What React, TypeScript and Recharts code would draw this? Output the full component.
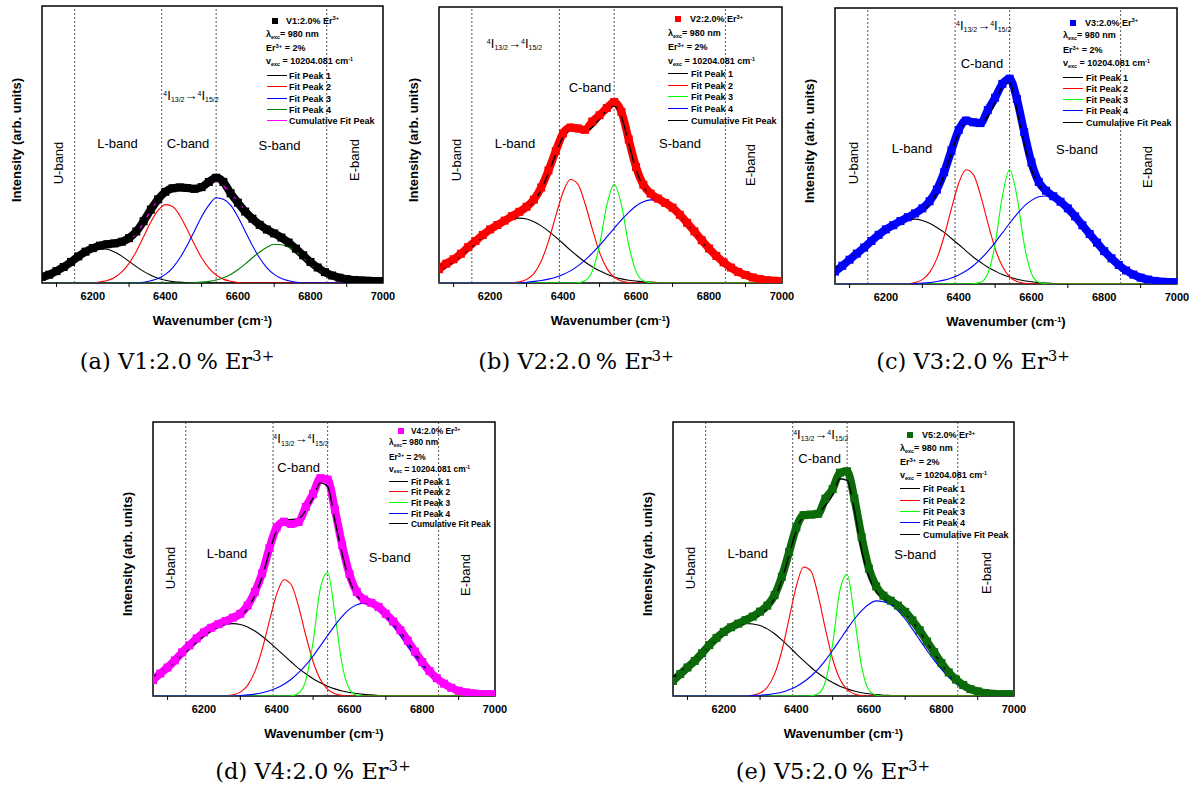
import React from 'react';
import { ComposedChart, Line, XAxis, YAxis, ReferenceLine, ReferenceArea } from 'recharts';

// ---------- shared axis data ----------
const WAVENUMBER = [6060,6080,6100,6120,6140,6160,6180,6200,6220,6240,6260,6280,6300,6320,6340,6360,6380,6400,6420,6440,6460,6480,6500,6520,6540,6560,6580,6600,6620,6640,6660,6680,6700,6720,6740,6760,6780,6800,6820,6840,6860,6880,6900,6920,6940,6960,6980,7000];
const X_TICKS = [6100,6200,6300,6400,6500,6600,6700,6800,6900,7000];
const BAND_EDGES = [6150, 6390, 6540, 6845];
const BAND_NAMES = ['U-band', 'L-band', 'C-band', 'S-band', 'E-band'];
const LEGEND_LINES = ['Fit Peak 1', 'Fit Peak 2', 'Fit Peak 3', 'Fit Peak 4', 'Cumulative Fit Peak'];

// ---------- V1 ----------
const V1_MEASURED = [2.2,3.0,4.3,5.8,7.6,9.6,11.3,12.6,13.5,14.0,14.3,14.9,16.2,18.6,22.3,26.5,30.2,32.9,34.2,34.5,34.3,34.0,34.6,36.5,38.0,36.5,32.4,29.0,25.8,23.2,21.0,19.3,17.9,16.4,14.6,12.4,10.0,7.6,5.6,3.9,2.7,1.9,1.4,1.1,0.9,0.8,0.7,0.7];
const V1_CUMULATIVE = [1.9,2.8,4.0,5.6,7.4,9.4,11.1,12.4,13.4,13.7,13.8,14.3,15.5,17.9,21.8,26.2,30.1,33.0,34.2,34.2,33.6,33.4,34.4,36.0,37.0,35.2,32.4,29.5,26.1,23.2,20.8,19.0,17.6,16.1,14.3,12.1,9.7,7.4,5.4,3.7,2.5,1.7,1.2,0.9,0.7,0.6,0.6,0.6];
const V1_PEAK1 = [1.3,2.2,3.4,5.0,6.8,8.8,10.5,11.8,12.4,12.2,11.2,9.7,7.8,5.9,4.2,2.8,1.7,1.0,0.5,0.3,0.1,
  0,0,0,0,0,0,0,0,0,0, 0,0,0,0,0,0,0,0,0,0, 0,0,0,0,0,0,0];
const V1_PEAK2 = [0,0,0,0,0,0,0,0,
  0.4,0.9,2.0,4.0,7.1,11.4,16.7,22.0,26.2,28.3,27.6,24.3,19.4,14.0,9.1,5.4,2.9,1.4,0.6,0.2,
  0,0,0,0,0,0,0,0,0,0, 0,0,0,0,0,0,0,0,0,0];
const V1_PEAK3 = [0,0,0,0,0,0,0,0,0,0, 0,0,0,0,
  0.3,0.8,1.6,3.1,5.5,9.0,13.5,18.7,23.9,28.1,30.8,30.2,28.1,23.9,18.7,13.5,9.0,5.5,3.1,1.6,0.8,0.3,
  0,0,0,0,0,0,0,0,0,0, 0,0];
const V1_PEAK4 = [0,0,0,0,0,0,0,0,0,0, 0,0,0,0,0,0,0,0,0,0, 0,
  0.1,0.3,0.6,1.1,1.9,3.1,4.8,6.8,9.1,11.2,12.9,14.0,13.8,12.9,11.2,9.1,6.8,4.8,3.1,1.9,1.1,0.6,0.3,0.1,
  0,0,0];

// ---------- V2 ----------
const V2_MEASURED = [5.0,7.0,8.6,10.6,13.0,15.2,17.4,19.4,21.0,22.6,24.2,25.8,27.6,30.2,34.6,40.8,47.8,54.2,56.3,56.0,55.5,58.5,60.8,63.4,65.6,62.0,52.0,42.0,35.6,32.4,30.6,29.0,27.3,24.7,21.8,18.7,15.5,12.5,9.8,7.5,5.6,4.0,2.9,2.0,1.4,1.0,0.8,0.6];
const V2_CUMULATIVE = [6.0,7.2,9.0,10.8,13.3,15.4,17.5,19.3,20.8,22.3,23.9,25.3,27.1,29.5,33.7,39.8,46.7,53.0,55.2,55.4,55.2,56.4,59.3,62.7,64.1,60.2,50.6,41.0,34.9,31.9,30.4,28.8,27.0,24.4,21.5,18.4,15.2,12.2,9.6,7.3,5.4,3.9,2.8,1.9,1.3,1.0,0.8,0.6];
const V2_PEAK1 = [4.4,5.9,7.6,9.7,11.9,14.3,16.6,18.8,20.7,22.2,23.2,23.5,23.2,22.2,20.7,18.8,16.6,14.3,11.9,9.7,7.6,5.9,4.4,3.2,2.2,1.5,1.0,0.7,0.4,0.3,0.2,0.1,
  0,0,0,0,0,0,0,0,0,0, 0,0,0,0,0,0];
const V2_PEAK2 = [0,0,0,0,0,0,0,0,0,0,
  0.1,0.4,1.3,3.4,7.9,15.1,24.3,32.9,37.5,35.9,28.9,19.6,11.1,5.3,2.1,0.7,0.2,
  0,0,0,0,0,0,0,0,0,0, 0,0,0,0,0,0,0,0,0,0, 0];
const V2_PEAK3 = [0,0,0,0,0,0,0,0,0,0, 0,0,0,0,0,0,0,0,0,
  0.1,0.8,4.2,13.8,28.2,35.8,28.2,13.8,4.2,0.8,0.1,
  0,0,0,0,0,0,0,0,0,0, 0,0,0,0,0,0,0,0];
const V2_PEAK4 = [0,0,0,0,0,0,0,0,0,0, 0,0,
  0.3,0.6,0.9,1.4,2.1,3.1,4.4,6.1,8.3,10.8,13.6,16.7,19.8,22.9,25.6,27.9,29.4,30.1,29.8,28.7,26.9,24.3,21.4,18.3,15.1,12.1,9.5,7.1,5.2,3.7,2.6,1.7,1.1,0.7,0.4,0.3];

// ---------- V3 ----------
const V3_MEASURED = [4.5,6.6,8.8,11.0,13.2,15.6,17.8,19.8,21.3,22.8,24.2,25.6,27.4,30.0,34.2,40.5,48.4,55.8,59.2,58.6,58.3,63.0,67.5,72.5,74.4,67.0,55.0,44.0,37.0,33.8,31.8,29.8,27.4,24.5,21.3,18.1,15.0,11.9,9.3,6.9,4.9,3.4,2.3,1.6,1.1,0.8,0.7,0.6];
const V3_CUMULATIVE = [5.7,7.3,9.3,11.5,13.5,15.7,17.8,19.6,21.0,22.4,23.7,25.0,26.6,29.0,33.1,39.5,47.4,54.7,58.5,58.9,58.5,60.7,65.5,71.5,73.0,63.0,51.0,41.4,35.9,33.1,31.4,29.5,27.1,24.2,21.0,17.8,14.8,11.7,9.1,6.7,4.7,3.3,2.2,1.5,1.1,0.8,0.7,0.6];
const V3_PEAK1 = [5.4,7.0,8.8,10.9,13.1,15.4,17.6,19.6,21.3,22.6,23.3,23.5,23.0,22.0,20.5,18.7,16.5,14.3,12.0,9.8,7.9,6.1,4.7,3.4,2.5,1.7,1.2,0.8,0.5,0.3,0.2,0.1,
  0,0,0,0,0,0,0,0,0,0, 0,0,0,0,0,0];
const V3_PEAK2 = [0,0,0,0,0,0,0,0,0,0,
  0.1,0.5,1.6,4.2,9.2,17.3,27.3,36.5,41.4,39.7,32.2,22.2,12.9,6.4,2.6,0.9,0.3,0.1,
  0,0,0,0,0,0,0,0,0,0, 0,0,0,0,0,0,0,0,0,0];
const V3_PEAK3 = [0,0,0,0,0,0,0,0,0,0, 0,0,0,0,0,0,0,0,0,
  0.1,0.6,3.8,14.4,31.8,41.4,31.8,14.4,3.8,0.6,0.1,
  0,0,0,0,0,0,0,0,0,0, 0,0,0,0,0,0,0,0];
const V3_PEAK4 = [0,0,0,0,0,0,0,0,0,0, 0,
  0.2,0.3,0.5,0.9,1.4,2.2,3.3,4.7,6.6,9.0,11.8,15.0,18.5,22.0,25.3,28.2,30.3,31.6,31.9,31.1,29.3,26.8,23.7,20.2,16.7,13.4,10.4,7.8,5.6,3.9,2.7,1.8,1.1,0.7,0.4,0.2,0.1];

// ---------- V4 ----------
const V4_MEASURED = [5.8,8.2,10.4,13.0,15.9,18.5,21.0,23.2,24.9,26.2,27.4,28.6,30.0,33.0,38.0,44.8,54.0,61.5,63.6,62.8,63.5,69.0,73.8,79.5,79.0,68.0,55.0,44.5,38.0,35.2,34.0,32.5,30.0,27.2,24.0,20.2,16.2,12.4,9.1,6.5,4.5,3.0,1.9,1.3,0.9,0.7,0.6,0.6];
const V4_CUMULATIVE = [6.9,8.8,10.8,13.3,16.1,18.5,20.9,23.0,24.6,25.8,26.9,27.9,29.1,31.9,36.7,43.4,52.6,60.5,64.1,64.4,64.7,67.8,72.4,77.8,76.5,64.1,51.9,42.2,36.7,34.3,33.6,32.0,29.4,26.6,23.4,19.7,15.7,12.0,8.8,6.3,4.3,2.8,1.8,1.2,0.9,0.7,0.6,0.6];
const V4_PEAK1 = [6.3,8.1,10.1,12.4,14.8,17.2,19.6,21.8,23.7,25.2,26.1,26.4,26.1,25.2,23.7,21.8,19.6,17.2,14.8,12.4,10.1,8.1,6.3,4.8,3.6,2.6,1.8,1.3,0.9,0.6,0.4,0.2,0.1,
  0,0,0,0,0,0,0,0,0,0, 0,0,0,0,0];
const V4_PEAK2 = [0,0,0,0,0,0,0,0,0,0,
  0.1,0.4,1.4,3.9,8.9,17.0,27.4,37.2,42.4,40.6,32.7,22.1,12.6,6.0,2.4,0.8,0.2,
  0,0,0,0,0,0,0,0,0,0, 0,0,0,0,0,0,0,0,0,0, 0];
const V4_PEAK3 = [0,0,0,0,0,0,0,0,0,0, 0,0,0,0,0,0,0,0,0,
  0.1,1.0,5.8,19.8,39.3,45.1,29.9,11.4,2.5,0.3,
  0,0,0,0,0,0,0,0,0,0, 0,0,0,0,0,0,0,0,0];
const V4_PEAK4 = [0,0,0,0,0,0,0,0,0,0, 0,0,
  0.2,0.4,0.7,1.2,1.9,2.9,4.3,6.1,8.5,11.3,14.6,18.3,22.1,25.8,29.1,31.7,33.3,33.9,33.3,31.7,29.1,25.8,22.1,18.3,14.6,11.3,8.5,6.1,4.3,2.9,1.9,1.2,0.7,0.4,0.2,0.1];

// ---------- V5 ----------
const V5_MEASURED = [5.5,8.0,10.4,12.8,15.6,18.6,21.2,23.4,25.1,26.4,27.7,29.0,30.8,33.0,36.8,43.5,52.5,61.5,66.0,66.2,66.5,72.0,75.5,81.5,82.0,72.0,58.0,46.5,40.0,36.6,34.8,33.0,30.7,27.6,24.0,19.9,16.0,12.0,8.6,6.0,4.0,2.5,1.7,1.1,0.8,0.6,0.6,0.6];
const V5_CUMULATIVE = [7.0,8.9,10.9,13.1,15.8,18.6,21.0,23.1,24.7,25.9,27.1,28.3,29.9,32.0,35.6,42.3,51.4,60.5,65.6,66.6,66.8,69.6,73.3,79.3,78.7,67.8,53.2,43.5,38.0,35.6,34.0,32.3,30.1,27.1,23.5,19.4,15.6,11.7,8.3,5.8,3.9,2.4,1.6,1.0,0.7,0.6,0.6,0.6];
const V5_PEAK1 = [6.5,8.3,10.5,12.9,15.4,18.0,20.5,22.7,24.5,25.7,26.5,26.3,25.7,24.5,22.7,20.5,18.0,15.4,12.9,10.5,8.3,6.5,4.9,3.6,2.6,1.8,1.2,0.8,0.5,0.3,0.2,0.1,
  0,0,0,0,0,0,0,0,0,0, 0,0,0,0,0,0];
const V5_PEAK2 = [0,0,0,0,0,0,0,0,0,0, 0,
  0.3,1.1,3.2,8.0,16.5,28.2,40.1,47.1,45.7,36.8,24.5,13.5,6.2,2.3,0.7,0.2,
  0,0,0,0,0,0,0,0,0,0, 0,0,0,0,0,0,0,0,0,0, 0];
const V5_PEAK3 = [0,0,0,0,0,0,0,0,0,0, 0,0,0,0,0,0,0,0,0,
  0.1,0.8,5.2,18.9,38.5,44.4,29.0,10.7,2.2,0.3,
  0,0,0,0,0,0,0,0,0,0, 0,0,0,0,0,0,0,0,0];
const V5_PEAK4 = [0,0,0,0,0,0,0,0,0,0, 0,
  0.2,0.3,0.5,0.9,1.4,2.3,3.5,5.1,7.2,9.8,13.0,16.6,20.5,24.4,28.1,31.2,33.5,34.7,34.4,33.5,31.2,28.1,24.4,20.5,16.6,13.0,9.8,7.2,5.1,3.5,2.3,1.4,0.9,0.5,0.3,0.2,0.1];

// ---------- styling / layout ----------
const SANS = '"Liberation Sans", Arial, Helvetica, sans-serif';
const SERIF = '"DejaVu Serif", "Liberation Serif", serif';
const PEAK_KEYS = ['p1', 'p2', 'p3', 'p4'];
const PEAKS_BCDE = ['#000000', '#ff0000', '#00ff00', '#0000ff'];

type Legend = { markerX: number; textX: number; rowX: number; lineX1: number; lineX2: number; lineTextX: number; rowsY: number[]; fontSize: number };
type Panel = {
  letter: string; name: string;
  box: { left: number; top: number; right: number; bottom: number };
  dataColor: string; peakColors: string[]; cumColor: string;
  measured: number[]; cumulative: number[]; peaks: number[][];
  bands: number[][]; transition: number[]; legend: Legend; caption: number[];
};

const PANELS: Panel[] = [
  {
    letter: 'a', name: 'V1', box: { left: 42, top: 6, right: 383, bottom: 283 },
    dataColor: '#000000', peakColors: ['#000000', '#ff0000', '#0000ff', '#008000'], cumColor: '#ff00ff',
    measured: V1_MEASURED, cumulative: V1_CUMULATIVE, peaks: [V1_PEAK1, V1_PEAK2, V1_PEAK3, V1_PEAK4],
    bands: [[16, 157], [75.5, 137], [146, 137], [237.5, 139], [312, 154]], transition: [149, 89],
    legend: { markerX: 233, textX: 244, rowX: 224, lineX1: 225, lineX2: 245, lineTextX: 247, rowsY: [14.7, 27.7, 42, 55.3, 70, 81.3, 92.7, 104, 115.3], fontSize: 9 },
    caption: [177, 361],
  },
  {
    letter: 'b', name: 'V2', box: { left: 439, top: 7, right: 782, bottom: 283 },
    dataColor: '#ff0000', peakColors: PEAKS_BCDE, cumColor: '#000000',
    measured: V2_MEASURED, cumulative: V2_CUMULATIVE, peaks: [V2_PEAK1, V2_PEAK2, V2_PEAK3, V2_PEAK4],
    bands: [[17, 153], [76, 136], [151, 80], [241, 136], [311, 158]], transition: [75.5, 36],
    legend: { markerX: 239, textX: 251, rowX: 229, lineX1: 229, lineX2: 249, lineTextX: 252, rowsY: [12.3, 25.7, 40.3, 53.7, 67, 79, 90.3, 101.7, 113.7], fontSize: 9 },
    caption: [576, 361],
  },
  {
    letter: 'c', name: 'V3', box: { left: 835, top: 8, right: 1177, bottom: 284 },
    dataColor: '#0000ff', peakColors: PEAKS_BCDE, cumColor: '#000000',
    measured: V3_MEASURED, cumulative: V3_CUMULATIVE, peaks: [V3_PEAK1, V3_PEAK2, V3_PEAK3, V3_PEAK4],
    bands: [[18, 155], [77, 139.7], [147, 54.7], [242, 141], [312, 159]], transition: [148.7, 17],
    legend: { markerX: 238, textX: 250, rowX: 228, lineX1: 228, lineX2: 248, lineTextX: 251, rowsY: [14.7, 27, 42, 54.7, 69.7, 81, 92, 103.3, 115.3], fontSize: 9 },
    caption: [973, 361],
  },
  {
    letter: 'd', name: 'V4', box: { left: 153, top: 422, right: 495, bottom: 696 },
    dataColor: '#ff00ff', peakColors: PEAKS_BCDE, cumColor: '#000000',
    measured: V4_MEASURED, cumulative: V4_CUMULATIVE, peaks: [V4_PEAK1, V4_PEAK2, V4_PEAK3, V4_PEAK4],
    bands: [[17, 146.3], [74, 130.7], [145.7, 45.3], [236.7, 135], [312, 153]], transition: [148, 16.3],
    legend: { markerX: 248, textX: 258, rowX: 236, lineX1: 236, lineX2: 255, lineTextX: 258, rowsY: [8.7, 20.3, 34.7, 46.7, 59.7, 70.3, 81, 91.7, 102.3], fontSize: 8.4 },
    caption: [313, 771],
  },
  {
    letter: 'e', name: 'V5', box: { left: 673, top: 422, right: 1014, bottom: 696 },
    dataColor: '#0b6b0b', peakColors: PEAKS_BCDE, cumColor: '#000000',
    measured: V5_MEASURED, cumulative: V5_CUMULATIVE, peaks: [V5_PEAK1, V5_PEAK2, V5_PEAK3, V5_PEAK4],
    bands: [[17, 146.3], [74.7, 130.7], [146.7, 36.3], [242.3, 132], [313, 151.3]], transition: [147.8, 12],
    legend: { markerX: 237, textX: 249, rowX: 227, lineX1: 227, lineX2: 247, lineTextX: 250, rowsY: [13, 25.7, 40.3, 53.3, 67.3, 78.7, 90, 101.3, 113.3], fontSize: 9 },
    caption: [833, 771],
  },
];

function XTick(props: any) {
  const { x, y, payload } = props;
  const v = payload.value;
  if (v % 200 === 0) {
    return (
      <text x={x} y={y + 13} textAnchor="middle" dominantBaseline="central" fontFamily={SANS} fontWeight="bold" fontSize={11} fill="#000">
        {v}
      </text>
    );
  }
  return <line x1={x} x2={x} y1={y} y2={y + 4} stroke="#000" strokeWidth={1} />;
}

const squareDot = (color: string) => (p: any) => (
  <rect key={`sq-${p.index}`} x={p.cx - 4} y={p.cy - 4} width={8} height={8} fill={color} />
);

const Sup = ({ children, size }: { children: React.ReactNode; size: number }) => (
  <span style={{ fontSize: size, position: 'relative', top: -size * 0.55 }}>{children}</span>
);
const Sub = ({ children, size }: { children: React.ReactNode; size: number }) => (
  <span style={{ fontSize: size, position: 'relative', top: size * 0.35 }}>{children}</span>
);

function PanelChart({ cfg }: { cfg: Panel }) {
  const { left, top, right, bottom } = cfg.box;
  const w = right - left;
  const h = bottom - top;
  const ML = 45, MR = 12, MT = 6, XH = 56;
  const rows = WAVENUMBER.map((x, i) => ({
    x,
    measured: cfg.measured[i],
    cumulative: cfg.cumulative[i],
    p1: cfg.peaks[0][i],
    p2: cfg.peaks[1][i],
    p3: cfg.peaks[2][i],
    p4: cfg.peaks[3][i],
  }));
  const lg = cfg.legend;
  const fs = lg.fontSize;
  const lineColors = [...cfg.peakColors, cfg.cumColor];
  const rowStyle = (x: number, y: number): React.CSSProperties => ({
    position: 'absolute', left: x, top: y, transform: 'translateY(-50%)', whiteSpace: 'nowrap',
    fontFamily: SANS, fontWeight: 'bold', fontSize: fs, lineHeight: 1, color: '#000',
  });
  return (
    <div style={{ position: 'absolute', left: left - ML, top: top - MT, width: w + ML + MR, height: h + MT + XH }}>
      <ComposedChart width={w + ML + MR} height={h + MT + XH} data={rows} margin={{ top: MT, right: MR, bottom: 0, left: ML }}>
        <XAxis dataKey="x" type="number" domain={[6060, 7000]} ticks={X_TICKS} interval={0} tick={<XTick />}
          tickLine={false} tickSize={0} tickMargin={0} height={XH} axisLine={false} allowDataOverflow />
        <YAxis type="number" domain={[0, 100]} width={0} tick={false} tickLine={false} axisLine={false} allowDataOverflow />
        {BAND_EDGES.map((b) => (
          <ReferenceLine key={b} x={b} stroke="#444" strokeDasharray="2 2" strokeWidth={0.9} />
        ))}
        <Line dataKey="measured" type="monotone" stroke={cfg.dataColor} strokeWidth={8} dot={squareDot(cfg.dataColor)}
          isAnimationActive={false} />
        {PEAK_KEYS.map((k, i) => (
          <Line key={k} dataKey={k} type="monotone" stroke={cfg.peakColors[i]} strokeWidth={1.1} dot={false} isAnimationActive={false} />
        ))}
        <Line dataKey="cumulative" type="monotone" stroke={cfg.cumColor} strokeWidth={1.4} dot={false} isAnimationActive={false} />
        <ReferenceArea x1={6060} x2={7000} y1={0} y2={100} fill="none" stroke="#000" strokeWidth={1.5} />
      </ComposedChart>

      <div style={{ position: 'absolute', left: ML, top: MT, width: w, height: h, pointerEvents: 'none' }}>
        {BAND_NAMES.map((name, i) => {
          const [bx, by] = cfg.bands[i];
          const vertical = i === 0 || i === 4;
          return (
            <div key={name} style={{
              position: 'absolute', left: bx, top: by, whiteSpace: 'nowrap', fontFamily: SANS, fontSize: 13, lineHeight: 1,
              transform: vertical ? 'translate(-50%,-50%) rotate(-90deg)' : 'translate(-50%,-50%)',
            }}>{name}</div>
          );
        })}
        <div style={{ position: 'absolute', left: cfg.transition[0], top: cfg.transition[1], transform: 'translate(-50%,-50%)', whiteSpace: 'nowrap', fontFamily: SANS, fontSize: 13, lineHeight: 1 }}>
          <Sup size={7}>4</Sup>I<Sub size={7}>13/2</Sub>→<Sup size={7}>4</Sup>I<Sub size={7}>15/2</Sub>
        </div>
        <div style={{ position: 'absolute', left: lg.markerX - 3, top: lg.rowsY[0] - 3, width: 6, height: 6, background: cfg.dataColor }} />
        <div style={rowStyle(lg.textX, lg.rowsY[0])}>{cfg.name}:2.0% Er<Sup size={fs * 0.65}>3+</Sup></div>
        <div style={rowStyle(lg.rowX, lg.rowsY[1])}>λ<Sub size={fs * 0.6}>exc</Sub>= 980 nm</div>
        <div style={rowStyle(lg.rowX, lg.rowsY[2])}>Er<Sup size={fs * 0.65}>3+</Sup> = 2%</div>
        <div style={rowStyle(lg.rowX, lg.rowsY[3])}>v<Sub size={fs * 0.6}>exc</Sub> = 10204.081 cm<Sup size={fs * 0.6}>-1</Sup></div>
        {LEGEND_LINES.map((label, i) => (
          <React.Fragment key={label}>
            <div style={{ position: 'absolute', left: lg.lineX1, top: lg.rowsY[4 + i] - 0.9, width: lg.lineX2 - lg.lineX1, height: 0, borderTop: `1.8px solid ${lineColors[i]}` }} />
            <div style={rowStyle(lg.lineTextX, lg.rowsY[4 + i])}>{label}</div>
          </React.Fragment>
        ))}
        <div style={{ position: 'absolute', left: w / 2, top: h + 37, transform: 'translate(-50%,-50%)', whiteSpace: 'nowrap', fontFamily: SANS, fontWeight: 'bold', fontSize: 13, lineHeight: 1 }}>
          Wavenumber (cm<Sup size={8}>-1</Sup>)
        </div>
        <div style={{ position: 'absolute', left: -26, top: h / 2 - 5, transform: 'translate(-50%,-50%) rotate(-90deg)', whiteSpace: 'nowrap', fontFamily: SANS, fontWeight: 'bold', fontSize: 13, lineHeight: 1 }}>
          Intensity (arb. units)
        </div>
      </div>
    </div>
  );
}

export default function App() {
  return (
    <div style={{ position: 'absolute', left: 0, top: 0, width: 1203, height: 787, background: '#ffffff', overflow: 'hidden' }}>
      {PANELS.map((p) => (
        <React.Fragment key={p.letter}>
          <PanelChart cfg={p} />
          <div style={{ position: 'absolute', left: p.caption[0], top: p.caption[1], transform: 'translate(-50%,-50%)', whiteSpace: 'nowrap', fontFamily: SERIF, fontSize: 22.5, lineHeight: 1, color: '#000' }}>
            ({p.letter}) {p.name}:2.0{'\u2009'}% Er<Sup size={15}>3+</Sup>
          </div>
        </React.Fragment>
      ))}
    </div>
  );
}
